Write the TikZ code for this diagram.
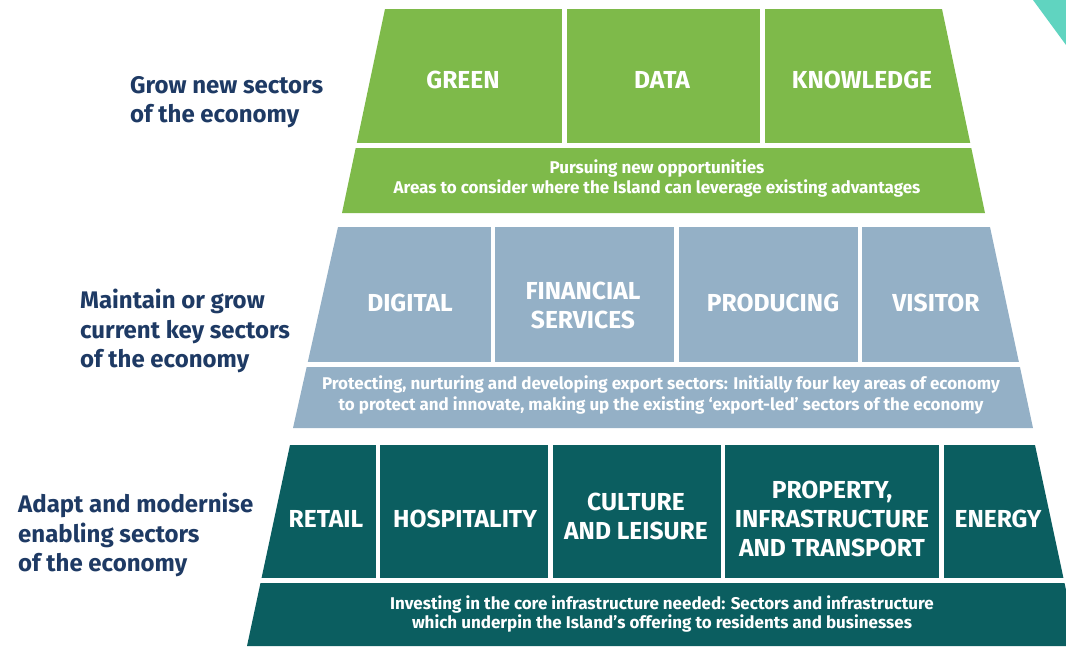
\documentclass[tikz,border=0pt]{standalone}
\usepackage{fontspec}
\setmainfont{Fira Sans}
\usepackage{tikz}
\usetikzlibrary{calc}
\definecolor{growgreen}{RGB}{126,186,74}
\definecolor{keyblue}{RGB}{148,176,198}
\definecolor{baseteal}{RGB}{11,94,96}
\definecolor{labelnavy}{RGB}{30,58,100}
\definecolor{cornerteal}{RGB}{96,212,192}

\begin{document}
\begin{tikzpicture}[x=1pt, y=-1pt,
    sector/.style = {text = white, font = \bfseries\fontsize{24.6}{29}\selectfont, align = center, inner sep = 0pt},
    blurb/.style = {text = white, font = \bfseries\fontsize{17}{21}\selectfont, align = center, inner sep = 0pt},
    aim/.style = {text = labelnavy, font = \bfseries\fontsize{24}{29.5}\selectfont, align = left, anchor = west, inner sep = 0pt},
    gap/.style = {white, line width = 4.5pt}]
    \useasboundingbox (0,0) rectangle (1066,646);
    \clip (0,0) rectangle (1066,646);

    % corner of the page decoration
    \fill[cornerteal] (1033,0) -- (1066,0) -- (1066,45) -- cycle;

    %%%%%%%% new sectors
    \fill[growgreen] (385,9) -- (942,9) -- (985,213) -- (342,213) -- cycle;
    \draw[gap] (330,145.5) -- (1000,145.5);
    \foreach \x in {564.5, 762.5}
        \draw[gap] (\x,5) -- (\x,145.5);

    \node[sector] (green) at (463,80) {GREEN};
    \node[sector] (data) at (662,80) {DATA};
    \node[sector] (knowledge) at (862,80) {KNOWLEDGE};
    \node[blurb, font = \bfseries\fontsize{17}{20}\selectfont] (newops) at (657,178) {Pursuing new opportunities\\Areas to consider where the Island can leverage existing advantages};

    %%%%%%%% current key sectors
    \fill[keyblue] (338,227) -- (990,227) -- (1033,428) -- (293,428) -- cycle;
    \draw[gap] (280,364.5) -- (1045,364.5);
    \foreach \x in {493, 676.5, 860}
        \draw[gap] (\x,222) -- (\x,364.5);

    \node[sector] (digital) at (410,303) {DIGITAL};
    \node[sector] (financial) at (583,305) {FINANCIAL\\SERVICES};
    \node[sector] (producing) at (773,303) {PRODUCING};
    \node[sector] (visitor) at (936,303) {VISITOR};
    \node[blurb] (export) at (661,395) {Protecting, nurturing and developing export sectors: Initially four key areas of economy\\to protect and innovate, making up the existing `export-led' sectors of the economy};

    %%%%%%%% enabling sectors
    \fill[baseteal] (290,445) -- (1035,445) -- (1078,646) -- (247,646) -- cycle;
    \draw[gap] (240,580.5) -- (1066,580.5);
    \foreach \x in {378, 550.5, 723, 941.5}
        \draw[gap] (\x,440) -- (\x,580.5);

    \node[sector] (retail) at (326,519) {RETAIL};
    \node[sector] (hospitality) at (465,519) {HOSPITALITY};
    \node[sector] (culture) at (636,516) {CULTURE\\AND LEISURE};
    \node[sector] (property) at (832,519) {PROPERTY,\\INFRASTRUCTURE\\AND TRANSPORT};
    \node[sector] (energy) at (998,519) {ENERGY};
    \node[blurb, font = \bfseries\fontsize{17}{19.5}\selectfont] (core) at (662,614) {Investing in the core infrastructure needed: Sectors and infrastructure\\which underpin the Island's offering to residents and businesses};

    %%%%%%%% aims on the left
    \node[aim] (grow) at (130,102) {Grow new sectors\\of the economy};
    \node[aim] (maintain) at (80,331) {Maintain or grow\\current key sectors\\of the economy};
    \node[aim] (adapt) at (18,535) {Adapt and modernise\\enabling sectors\\of the economy};

\end{tikzpicture}
\end{document}
